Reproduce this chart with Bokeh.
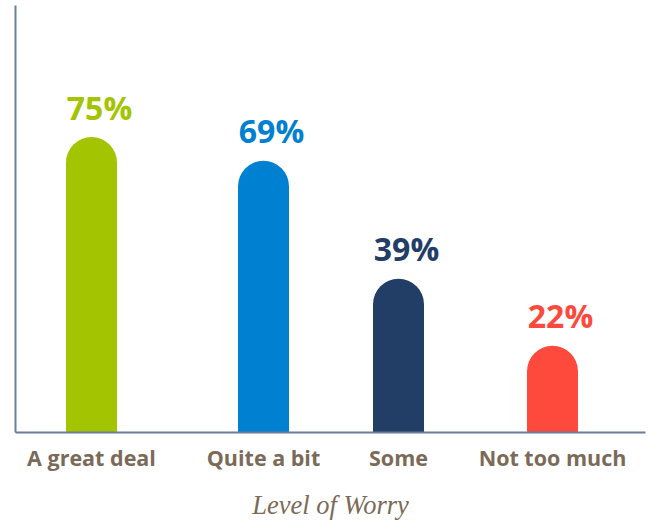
from bokeh.plotting import figure
from bokeh.models import Range1d, FixedTicker, ColumnDataSource
from bokeh.core.properties import value
from bokeh.embed import file_html
from bokeh.resources import INLINE

# ---- data ----
categories = ["A great deal", "Quite a bit", "Some", "Not too much"]
percents = [75, 69, 39, 22]
bar_colors = ["#a3c400", "#0080d0", "#223d66", "#fd4a3c"]
axis_title = "Level of Worry"

# ---- layout (category centre positions along x, in frame pixels) ----
category_x = [76, 248, 383, 537]
FRAME_W, FRAME_H = 630, 427
Y_MAX = 108.4

TEXT_COLOR = "#7b6a58"
AXIS_COLOR = "#6b7d98"

src = ColumnDataSource(dict(
    x=category_x,
    value=percents,
    label=[f"{v}%" for v in percents],
    color=bar_colors,
))

p = figure(
    frame_width=FRAME_W, frame_height=FRAME_H,
    x_range=Range1d(0, FRAME_W), y_range=Range1d(0, Y_MAX),
    output_backend="svg", toolbar_location=None,
    min_border_top=5, min_border_right=6, min_border_left=15, min_border_bottom=0,
    background_fill_color="white", border_fill_color="white",
)
p.outline_line_color = None
p.grid.visible = False

p.vbar(x="x", top="value", bottom=0, width=51, fill_color="color", line_color=None,
       border_radius=(26, 26, 0, 0), source=src)

p.text(x="x", y="value", text="label", text_color="color",
       text_font=value("Open Sans"), text_font_style="bold", text_font_size="32px",
       text_align="center", text_baseline="alphabetic", x_offset=8, y_offset=-30,
       source=src)

# x axis
xa = p.xaxis[0]
xa.ticker = FixedTicker(ticks=category_x)
xa.major_label_overrides = {x: c for x, c in zip(category_x, categories)}
xa.major_tick_line_color = None
xa.minor_tick_line_color = None
xa.major_tick_out = 0
xa.major_tick_in = 0
xa.axis_line_color = AXIS_COLOR
xa.axis_line_width = 2
xa.major_label_text_font = "Open Sans"
xa.major_label_text_font_style = "bold"
xa.major_label_text_font_size = "21.5px"
xa.major_label_text_color = TEXT_COLOR
xa.major_label_standoff = 10
xa.axis_label = axis_title
xa.axis_label_text_font = "Liberation Serif"
xa.axis_label_text_font_style = "italic"
xa.axis_label_text_font_size = "26.5px"
xa.axis_label_text_color = TEXT_COLOR
xa.axis_label_standoff = 15

# y axis: line only
ya = p.yaxis[0]
ya.ticker = FixedTicker(ticks=[])
ya.major_tick_out = 0
ya.major_tick_in = 0
ya.minor_tick_line_color = None
ya.axis_line_color = AXIS_COLOR
ya.axis_line_width = 2

open("out.html", "w").write(file_html(p, INLINE))
